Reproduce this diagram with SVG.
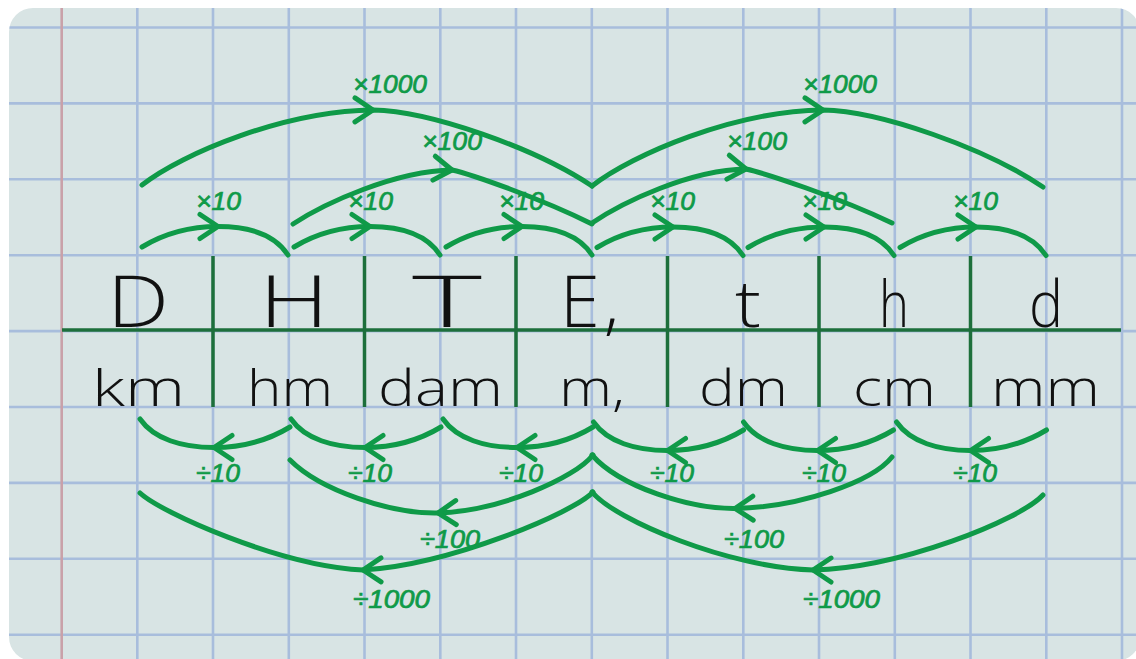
<svg xmlns="http://www.w3.org/2000/svg" width="1136" height="659" viewBox="0 0 1136 659">
<style>
.grid{stroke:#a8bddc;stroke-width:2.6;fill:none}
.margin{stroke:#c9a1a9;stroke-width:2.6;fill:none}
.rule{stroke:#1d6f3b;stroke-width:3.5;fill:none}
.arc{fill:none;stroke:#0f9a48;stroke-width:5;stroke-linecap:round;marker-mid:url(#chev)}
.lbl{font-family:"Liberation Sans",Arial,sans-serif;font-style:italic;font-size:25px;fill:#0f9a48;stroke:#0f9a48;stroke-width:0.7}
.big{font-family:"Open Sans","Liberation Sans",sans-serif;font-weight:300;font-size:72px;fill:#111}
.low{font-family:"Open Sans","Liberation Sans",sans-serif;font-weight:300;font-size:64px;fill:#111}
.unit{font-family:"Open Sans","Liberation Sans",sans-serif;font-weight:300;font-size:50px;fill:#111}
</style>
<defs>
<clipPath id="card"><rect x="9" y="8" width="1131" height="653" rx="24"/></clipPath>
<marker id="chev" viewBox="0 0 44 44" refX="22" refY="22" markerWidth="44" markerHeight="44" markerUnits="userSpaceOnUse" orient="auto"><path d="M4,10 L22,22 L4,34" fill="none" stroke="#0f9a48" stroke-width="5" stroke-linecap="round" stroke-linejoin="round"/></marker>
</defs>
<rect width="1136" height="659" fill="#ffffff"/>
<g id="paper" clip-path="url(#card)">
<rect x="9" y="8" width="1131" height="653" fill="#d8e4e4"/>
<path class="grid" d="M137.3,0V659M213,0V659M288.8,0V659M364.5,0V659M440.3,0V659M516,0V659M591.8,0V659M667.5,0V659M743.3,0V659M819,0V659M894.8,0V659M970.5,0V659M1046.3,0V659M1122,0V659M0,27.5H1136M0,103.4H1136M0,179.3H1136M0,255.2H1136M0,331.1H1136M0,407H1136M0,482.9H1136M0,558.8H1136M0,634.7H1136"/>
<path class="margin" d="M61.7,0V659"/>
</g>
<g id="table">
<path class="rule" d="M62,330H1121M213,256V407M364.5,256V407M516,256V407M667.5,256V407M819,256V407M970.5,256V407"/>
</g>
<g id="col-km">
<text class="big" x="107" y="327" textLength="62" lengthAdjust="spacingAndGlyphs">D</text>
<text class="unit" x="92" y="406" textLength="93" lengthAdjust="spacingAndGlyphs">km</text>
</g>
<g id="col-hm">
<text class="big" x="259" y="327" textLength="70" lengthAdjust="spacingAndGlyphs">H</text>
<text class="unit" x="247" y="406" textLength="86" lengthAdjust="spacingAndGlyphs">hm</text>
</g>
<g id="col-dam">
<text class="big" x="412" y="327" textLength="70" lengthAdjust="spacingAndGlyphs">T</text>
<text class="unit" x="378" y="406" textLength="125" lengthAdjust="spacingAndGlyphs">dam</text>
</g>
<g id="col-m">
<text class="big" x="560" y="327">E<tspan dx="4">,</tspan></text>
<text class="unit" x="559" y="406" textLength="66" lengthAdjust="spacingAndGlyphs">m,</text>
</g>
<g id="col-dm">
<text class="low" x="735" y="327" textLength="26" lengthAdjust="spacingAndGlyphs">t</text>
<text class="unit" x="699" y="406" textLength="89" lengthAdjust="spacingAndGlyphs">dm</text>
</g>
<g id="col-cm">
<text class="low" x="879" y="327" textLength="30" lengthAdjust="spacingAndGlyphs">h</text>
<text class="unit" x="853" y="406" textLength="83" lengthAdjust="spacingAndGlyphs">cm</text>
</g>
<g id="col-mm">
<text class="low" x="1029" y="327" textLength="34" lengthAdjust="spacingAndGlyphs">d</text>
<text class="unit" x="991" y="406" textLength="109" lengthAdjust="spacingAndGlyphs">mm</text>
</g>
<g id="connectors">
<path class="arc" d="M142,247c23,-14 48,-20.5 76,-20.5c32,0 57,8.5 70,28.5"/>
<path class="arc" d="M294,247c23,-14 48,-20.5 76,-20.5c32,0 57,8.5 70,28.5"/>
<path class="arc" d="M446,247c23,-14 48,-20.5 76,-20.5c32,0 57,8.5 70,28.5"/>
<path class="arc" d="M597,247.5c23,-14 48,-20.5 76,-20.5c32,0 57,8.5 70,28.5"/>
<path class="arc" d="M748,247.5c23,-14 48,-20.5 76,-20.5c32,0 57,8.5 70,28.5"/>
<path class="arc" d="M900,247.5c23,-14 48,-20.5 76,-20.5c32,0 57,8.5 70,28.5"/>
<path class="arc" d="M293,224C325,203 395,171 452,170C470,174 540,198 592,224"/>
<path class="arc" d="M592,223C623,202 690,170 746,169C764,173 838,197 892,223"/>
<path class="arc" d="M142,185C183,153 285,111 373,110C430,111 535,148 592,186"/>
<path class="arc" d="M592,186C633,154 735,111 823,110C880,111 985,148 1043,187"/>
<path class="arc" d="M290,427c-23,14 -48,20.5 -76,20.5c-32,0 -60,-8.5 -74,-28.5"/>
<path class="arc" d="M441,427c-23,14 -48,20.5 -76,20.5c-32,0 -60,-8.5 -74,-28.5"/>
<path class="arc" d="M593,427c-23,14 -48,20.5 -76,20.5c-32,0 -60,-8.5 -74,-28.5"/>
<path class="arc" d="M743.5,430c-23,14 -48,20.5 -76,20.5c-32,0 -60,-8.5 -74,-28.5"/>
<path class="arc" d="M893.5,430c-23,14 -48,20.5 -76,20.5c-32,0 -60,-8.5 -74,-28.5"/>
<path class="arc" d="M1046.5,430c-23,14 -48,20.5 -76,20.5c-32,0 -60,-8.5 -74,-28.5"/>
<path class="arc" d="M593,455C575,478 500,511 438,513C390,514 320,490 290,460"/>
<path class="arc" d="M892,457C872,482 800,507 735,508.5C690,509 620,487 592,455"/>
<path class="arc" d="M593,492C575,512 450,565 363,570C280,566 160,512 140,493"/>
<path class="arc" d="M1043,495C1020,520 900,568 813,570C730,568 615,520 592,492"/>
</g>
<g id="labels">
<text class="lbl" x="353" y="93" textLength="74" lengthAdjust="spacingAndGlyphs">×1000</text>
<text class="lbl" x="803" y="93" textLength="74" lengthAdjust="spacingAndGlyphs">×1000</text>
<text class="lbl" x="422" y="150" textLength="60" lengthAdjust="spacingAndGlyphs">×100</text>
<text class="lbl" x="727" y="150" textLength="60" lengthAdjust="spacingAndGlyphs">×100</text>
<text class="lbl" x="196" y="210" textLength="45" lengthAdjust="spacingAndGlyphs">×10</text>
<text class="lbl" x="348" y="210" textLength="45" lengthAdjust="spacingAndGlyphs">×10</text>
<text class="lbl" x="499" y="210" textLength="45" lengthAdjust="spacingAndGlyphs">×10</text>
<text class="lbl" x="650" y="210" textLength="45" lengthAdjust="spacingAndGlyphs">×10</text>
<text class="lbl" x="802" y="210" textLength="45" lengthAdjust="spacingAndGlyphs">×10</text>
<text class="lbl" x="953" y="210" textLength="45" lengthAdjust="spacingAndGlyphs">×10</text>
<text class="lbl" x="196" y="482" textLength="44" lengthAdjust="spacingAndGlyphs">÷10</text>
<text class="lbl" x="348" y="482" textLength="44" lengthAdjust="spacingAndGlyphs">÷10</text>
<text class="lbl" x="499" y="482" textLength="44" lengthAdjust="spacingAndGlyphs">÷10</text>
<text class="lbl" x="650" y="482" textLength="44" lengthAdjust="spacingAndGlyphs">÷10</text>
<text class="lbl" x="802" y="482" textLength="44" lengthAdjust="spacingAndGlyphs">÷10</text>
<text class="lbl" x="953" y="482" textLength="44" lengthAdjust="spacingAndGlyphs">÷10</text>
<text class="lbl" x="420" y="548" textLength="60" lengthAdjust="spacingAndGlyphs">÷100</text>
<text class="lbl" x="724" y="548" textLength="60" lengthAdjust="spacingAndGlyphs">÷100</text>
<text class="lbl" x="353" y="608" textLength="77" lengthAdjust="spacingAndGlyphs">÷1000</text>
<text class="lbl" x="803" y="608" textLength="77" lengthAdjust="spacingAndGlyphs">÷1000</text>
</g>
</svg>
